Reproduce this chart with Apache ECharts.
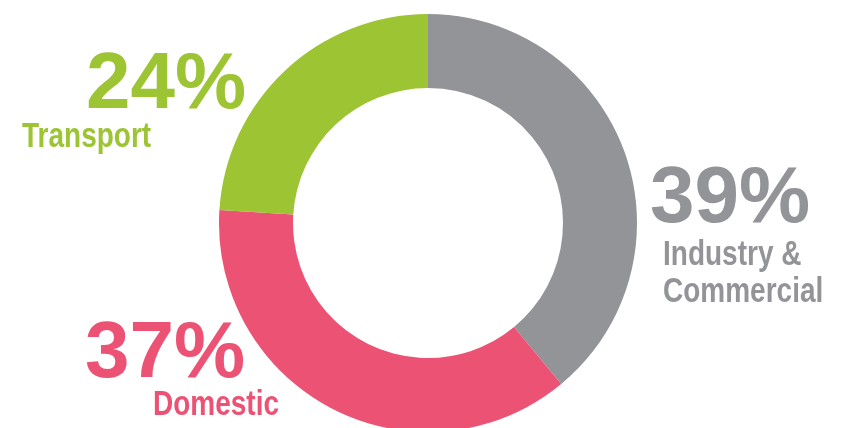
<!DOCTYPE html>
<html>
<head>
<meta charset="utf-8">
<script src="https://cdn.jsdelivr.net/npm/echarts@6/dist/echarts.min.js"></script>
<style>
  html, body { margin: 0; padding: 0; background: #fff; }
  #chart { width: 859px; height: 428px; }
</style>
</head>
<body>
<div id="chart"></div>
<script>
// 数据
var categories = ['Industry &\nCommercial', 'Domestic', 'Transport'];
var shares = [39, 37, 24];
var colors = ['#939498', '#EB5274', '#9CC433'];

// label placement (x = left edge, y = middle of the capitals)
var pctPos = [[650, 195], [85, 350], [86, 81]];
var namePos = [[663, 253], [153, 403], [22, 135]];

var myChart = echarts.init(document.getElementById('chart'));

var graphics = [];
categories.forEach(function (name, i) {
  graphics.push({
    type: 'text',
    x: pctPos[i][0],
    y: pctPos[i][1] - 40 + 5,
    style: {
      text: shares[i] + '%',
      fill: colors[i],
      font: 'bold 80px "Liberation Sans", Arial, sans-serif',
      lineHeight: 80,
      align: 'left',
      verticalAlign: 'top'
    }
  });
  graphics.push({
    type: 'text',
    x: namePos[i][0],
    y: namePos[i][1] - 18.5 + 2,
    scaleX: 0.8,
    style: {
      text: name,
      fill: colors[i],
      font: 'bold 35px "Liberation Sans", Arial, sans-serif',
      lineHeight: 37,
      align: 'left',
      verticalAlign: 'top'
    }
  });
});

myChart.setOption({
  animation: false,
  graphic: graphics,
  series: [
    {
      type: 'pie',
      center: [428, 223],
      radius: [135, 209],
      startAngle: 90,
      clockwise: true,
      silent: true,
      label: { show: false },
      labelLine: { show: false },
      itemStyle: { borderWidth: 0 },
      data: categories.map(function (c, i) {
        return { name: c, value: shares[i], itemStyle: { color: colors[i] } };
      })
    }
  ]
});
</script>
</body>
</html>
